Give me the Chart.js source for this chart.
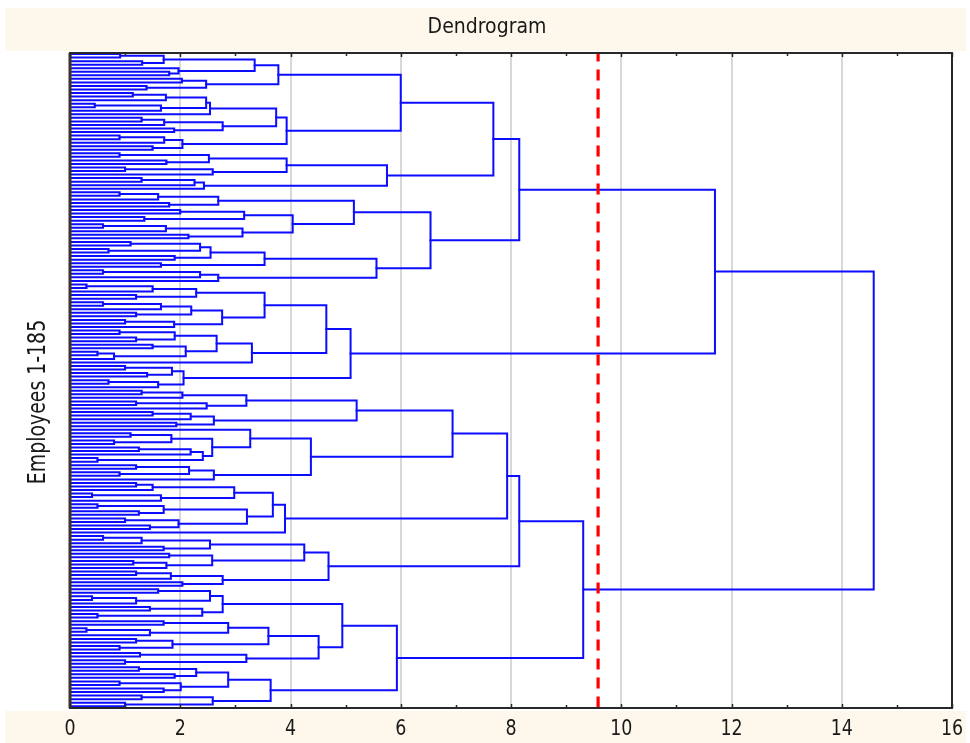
<!DOCTYPE html>
<html><head><meta charset="utf-8">
<script src="https://cdn.jsdelivr.net/npm/chart.js@4.4.1/dist/chart.umd.min.js"></script>
<style>html,body{margin:0;padding:0;background:#fff;}#wrap{position:relative;width:970px;height:743px;}canvas{display:block;}</style>
</head><body><div id="wrap"><canvas id="c" width="970" height="743"></canvas></div>
<script>
// ---------------- data ----------------
const chartTitle = 'Dendrogram';
const yAxisTitle = 'Employees 1-185';
const xTickValues = [0, 2, 4, 6, 8, 10, 12, 14, 16];
const xTickLabels = ['0', '2', '4', '6', '8', '10', '12', '14', '16'];
const cutLevel = 9.58;          // red dashed cut line (linkage distance)
const rootHeight = 14.58;       // final merge
// merge tree: [linkage distance, upper branch, lower branch]; 0 = one employee
const upperCluster =
 [11.70,
  [8.15,
   [7.68,
    [6.00,
     [3.78, [3.35, [1.70,[0.91,0,0],[1.31,0,0]], [1.97,0,[1.80,0,0]]],
            [2.47,[2.03,0,0],[1.39,0,0]]],
     [3.93, [3.74, [2.54,[2.47,[1.74,[1.14,0,0],0],[1.65,[0.45,0,0],0]],0],
                   [2.77,[1.71,[1.30,0,0],0],[1.89,0,0]]],
            [2.04,[1.71,[0.90,0,0],0],[1.50,0,0]]]],
    [5.75,
     [3.93,[2.52,[0.90,0,0],[1.75,0,0]],[2.59,[1.00,0,0],0]],
     [2.43,[2.26,[1.30,0,0],0],0]]],
   [6.54,
    [5.15,
     [2.69,[1.60,[0.90,0,0],0],[1.80,0,0]],
     [4.04,[3.16,[2.00,0,0],[1.35,0,0]],[3.13,[1.74,[0.60,0,0],0],[2.15,0,0]]]],
    [5.56,
     [3.53,[2.55,[2.36,[1.10,0,0],[0.70,0,0]],[1.90,0,0]],[1.65,0,0]],
     [2.69,[2.36,[0.60,0,0],0],0]]]],
  [5.09,
   [4.65,
    [3.53,[2.29,[1.50,[0.30,0,0],0],[1.20,0,0]],
          [2.76,[2.20,[1.65,[0.60,0,0],0],[1.20,0,0]],[1.89,[1.00,0,0],0]]],
    [3.30,[2.66,[1.90,[0.90,0,0],[1.20,0,0]],[2.10,[1.50,0,0],[0.80,[0.50,0,0],0]]],0]],
   [2.06,[1.85,[1.00,0,0],[1.40,0,0]],[1.60,[0.70,0,0],0]]]];
const lowerCluster =
 [9.31,
  [8.15,
   [7.93,
    [6.94,
     [5.20,[3.20,[2.04,[1.30,0,0],0],[2.48,[1.20,0,0],0]],
           [2.61,[2.19,[1.50,0,0],0],[1.93,0,0]]],
     [4.37,[3.27,0,[2.58,[1.84,[1.10,0,0],[0.80,0,0]],[2.41,[2.19,[1.25,0,0],0],[0.50,0,0]]]],
           [2.61,[2.16,[1.20,0,0],[0.90,0,0]],0]]],
    [3.90,[3.68,[2.98,[1.50,[1.20,0,0],0],[1.65,[0.40,0,0],0]],
                [3.21,[1.70,[0.50,0,0],[1.25,0,0]],[1.97,[1.00,0,0],[1.45,0,0]]]],0]],
   [4.69,
    [4.25,[2.54,[1.30,[0.60,0,0],0],[1.70,0,0]],[2.58,[1.80,0,0],[1.75,[1.15,0,0],0]]],
    [2.77,[1.83,[1.20,0,0],0],[2.04,0,0]]]],
  [5.93,
   [4.94,
    [2.77,[2.54,[1.60,0,0],[1.20,[0.40,0,0],0]],[2.40,[1.45,0,0],[0.50,0,0]]],
    [4.51,[3.60,[2.87,[1.70,0,0],[1.45,[0.30,0,0],0]],[1.86,[1.20,0,0],[0.90,0,0]]],
          [3.20,[1.27,0,0],[1.00,0,0]]]],
   [3.64,
    [2.87,[2.29,[1.25,0,0],[1.90,0,0]],[2.01,[0.90,0,0],[1.70,0,0]]],
    [2.59,[1.30,0,0],[1.00,0,0]]]]];

// ---------------- build link shapes from the tree ----------------
const tree = [rootHeight, upperCluster, lowerCluster];
let leafCounter = 0;
const links = [];
function place(node) {
  if (node === 0) { return { h: 0, y: leafCounter++ }; }
  const a = place(node[1]);
  const b = place(node[2]);
  const h = node[0];
  links.push([{x: a.h, y: a.y}, {x: h, y: a.y}, {x: h, y: b.y}, {x: b.h, y: b.y}]);
  return { h: h, y: (a.y + b.y) / 2 };
}
place(tree);
const nLeaves = leafCounter;

const BLUE = 'rgb(12,12,255)';
const datasets = [{
  data: [{x: cutLevel, y: -1}, {x: cutLevel, y: nLeaves + 1}],
  borderColor: 'rgb(255,0,0)', borderWidth: 3.2, borderDash: [11, 8],
  pointRadius: 0, fill: false, tension: 0, order: 0
}];
links.forEach(pts => datasets.push({
  data: pts, borderColor: BLUE, borderWidth: 2, pointRadius: 0,
  fill: false, tension: 0, order: 1, borderCapStyle: 'square', borderJoinStyle: 'miter'
}));

const BEIGE = 'rgb(253,248,235)';
const FONT = '"DejaVu Sans Condensed","Liberation Sans Narrow","Liberation Sans",sans-serif';

function narrowText(ctx, txt, x, y, sx) {
  ctx.save(); ctx.translate(x, y); ctx.scale(sx, 1); ctx.fillText(txt, 0, 0); ctx.restore();
}

const decor = {
  id: 'decor',
  beforeDraw(chart) {
    const ctx = chart.ctx, ca = chart.chartArea, xs = chart.scales.x;
    ctx.save();
    ctx.fillStyle = '#fff'; ctx.fillRect(0, 0, chart.width, chart.height);
    ctx.fillStyle = BEIGE;
    ctx.fillRect(5, 8, 961, 43);
    ctx.fillRect(5, ca.bottom + 3, 961, chart.height - ca.bottom - 3);
    ctx.fillStyle = '#fff'; ctx.fillRect(ca.left, ca.top, ca.right - ca.left, ca.bottom - ca.top);
    ctx.strokeStyle = 'rgb(216,216,216)'; ctx.lineWidth = 2;
    xTickValues.forEach(v => {
      if (v === xs.min || v === xs.max) return;
      const px = Math.round(xs.getPixelForValue(v));
      ctx.beginPath(); ctx.moveTo(px, ca.top); ctx.lineTo(px, ca.bottom); ctx.stroke();
    });
    ctx.restore();
  },
  afterDatasetsDraw(chart) {
    const ctx = chart.ctx, ca = chart.chartArea, xs = chart.scales.x;
    ctx.save();
    ctx.strokeStyle = 'rgb(40,40,40)'; ctx.lineWidth = 2;
    ctx.strokeRect(ca.left, ca.top, ca.right - ca.left, ca.bottom - ca.top);
    ctx.strokeStyle = 'rgb(60,50,40)'; ctx.lineWidth = 3;
    ctx.beginPath(); ctx.moveTo(ca.left, ca.top); ctx.lineTo(ca.left, ca.bottom); ctx.stroke();
    ctx.strokeStyle = 'rgb(40,40,40)'; ctx.lineWidth = 1.5;
    for (let v = xs.min; v <= xs.max; v++) {
      const px = Math.round(xs.getPixelForValue(v)) + 0.5;
      const len = (v % 2 === 0) ? 4 : 3;
      ctx.beginPath();
      ctx.moveTo(px, ca.top); ctx.lineTo(px, ca.top + len);
      ctx.moveTo(px, ca.bottom); ctx.lineTo(px, ca.bottom - len);
      ctx.stroke();
    }
    ctx.fillStyle = 'rgb(25,25,25)';
    ctx.textAlign = 'center'; ctx.textBaseline = 'middle';
    ctx.font = '21px ' + FONT;
    narrowText(ctx, chartTitle, 487, 28, 1.0);
    ctx.font = '22px ' + FONT;
    xTickValues.forEach((v, i) => {
      narrowText(ctx, xTickLabels[i], xs.getPixelForValue(v), 729, 0.88);
    });
    ctx.save();
    ctx.translate(38, 402); ctx.rotate(-Math.PI / 2);
    ctx.font = '25px ' + FONT;
    narrowText(ctx, yAxisTitle, 0, 0, 0.84);
    ctx.restore();
    ctx.restore();
  }
};

new Chart(document.getElementById('c'), {
  type: 'line',
  data: { datasets },
  options: {
    responsive: false, animation: false, devicePixelRatio: 1,
    layout: { padding: { left: 70, right: 18, top: 53, bottom: 35 } },
    parsing: false, normalized: true,
    plugins: { legend: { display: false }, tooltip: { enabled: false }, title: { display: false } },
    scales: {
      x: { type: 'linear', min: 0, max: 16, display: false },
      y: { type: 'linear', min: -0.3, max: nLeaves - 0.5, reverse: true, display: false }
    }
  },
  plugins: [decor]
});
</script></body></html>
